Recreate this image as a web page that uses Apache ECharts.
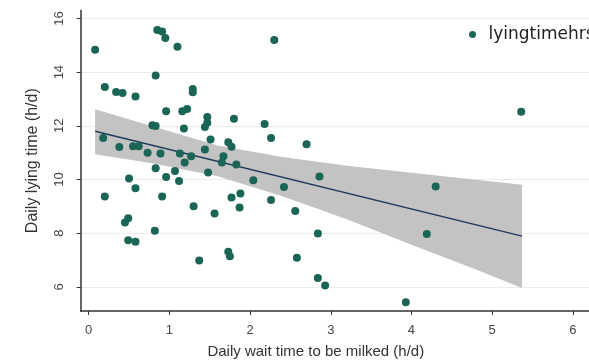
<!DOCTYPE html>
<html>
<head>
<meta charset="utf-8">
<script src="https://cdn.jsdelivr.net/npm/echarts@6/dist/echarts.min.js"></script>
<style>
html,body{margin:0;padding:0;background:#fff;}
#chart{width:589px;height:364px;}
</style>
</head>
<body>
<div id="chart"></div>
<script>
// Scatter data: wait time (h/d), lying time (h/d)
var waitTime = [0.08,0.85,0.91,0.95,1.10,0.83,0.20,0.34,0.42,0.58,1.29,1.29,0.96,1.16,1.22,0.79,0.83,1.18,1.47,1.47,1.44,1.51,0.18,0.38,0.55,0.62,0.73,0.89,1.13,1.27,1.44,0.83,1.07,1.19,1.48,0.50,0.96,1.12,0.58,0.20,0.91,1.30,1.56,0.49,0.45,0.82,0.49,0.58,1.37,2.30,1.80,2.18,2.26,2.70,1.73,1.77,1.67,1.65,1.83,2.04,2.42,2.86,1.77,1.88,1.87,2.26,2.56,2.84,1.73,1.75,2.58,2.84,2.93,5.36,4.30,4.19,3.93];
var lyingTime = [14.83,15.57,15.51,15.27,14.95,13.87,13.45,13.26,13.22,13.09,13.37,13.25,12.54,12.54,12.63,12.02,11.99,11.90,12.33,12.11,11.96,11.49,11.55,11.21,11.24,11.24,11.00,10.97,10.97,10.87,11.12,10.42,10.32,10.63,10.26,10.04,10.09,9.94,9.67,9.37,9.37,9.00,8.73,8.56,8.40,8.09,7.74,7.68,6.98,15.20,12.26,12.07,11.55,11.31,11.39,11.22,10.87,10.63,10.56,9.97,9.72,10.11,9.33,9.48,8.96,9.24,8.83,7.99,7.31,7.14,7.08,6.33,6.05,12.52,9.74,7.97,5.43];

// Fitted line endpoints
var fitX = [0.08, 5.37];
var fitY = [11.80, 7.89];

// Confidence band
var ciX = [0.08, 0.8, 1.6, 2.4, 3.2, 4.0, 4.8, 5.37];
var ciUpper = [12.62, 11.97, 11.27, 10.84, 10.51, 10.25, 9.99, 9.80];
var ciLower = [10.94, 10.60, 10.12, 9.38, 8.52, 7.57, 6.65, 5.96];

// Tick labels
var xTicks = [0, 1, 2, 3, 4, 5, 6];
var yTicks = [6, 8, 10, 12, 14, 16];

var seriesName = 'lyingtimehrs';
var xTitle = 'Daily wait time to be milked (h/d)';
var yTitle = 'Daily lying time (h/d)';

var scatterData = waitTime.map(function (x, i) { return [x, lyingTime[i]]; });
var fitData = fitX.map(function (x, i) { return [x, fitY[i]]; });
var ciData = ciX.map(function (x, i) { return [x, ciUpper[i], ciLower[i]]; });

var chart = echarts.init(document.getElementById('chart'), null, {renderer: 'canvas'});
var font = 'Liberation Sans, Arial, sans-serif';

chart.setOption({
  animation: false,
  backgroundColor: '#ffffff',
  textStyle: {fontFamily: font},
  grid: {left: 80.6, top: 10.4, width: 526.7, height: 301.9, containLabel: false},
  legend: {
    data: [seriesName],
    left: 464, top: 21,
    icon: 'circle', itemWidth: 22, itemHeight: 7, itemGap: 6,
    textStyle: {fontSize: 17, color: '#222', fontFamily: 'DejaVu Sans, sans-serif'}
  },
  xAxis: {
    type: 'value', min: -0.1, max: 6.2,
    name: xTitle, nameLocation: 'middle', nameGap: 33,
    nameTextStyle: {fontSize: 15, color: '#333', fontFamily: font, padding: [0, 38, 0, 0]},
    axisLine: {show: true, onZero: false, lineStyle: {color: '#333', width: 1.5}},
    axisTick: {show: true, customValues: xTicks, length: 4, lineStyle: {color: '#333'}},
    axisLabel: {customValues: xTicks, margin: 13, fontSize: 13, color: '#444', fontFamily: font},
    splitLine: {show: false}
  },
  yAxis: {
    type: 'value', min: 5.1, max: 16.3,
    name: yTitle, nameLocation: 'middle', nameGap: 40, nameRotate: 90,
    nameTextStyle: {fontSize: 16, color: '#333', fontFamily: font},
    axisLine: {show: true, onZero: false, lineStyle: {color: '#333', width: 1.5}},
    axisTick: {show: true, customValues: yTicks, length: 4, lineStyle: {color: '#333'}},
    axisLabel: {customValues: yTicks, rotate: 90, margin: 15, fontSize: 13, color: '#444', fontFamily: font},
    splitLine: {show: true, lineStyle: {color: '#ececec', width: 1}}
  },
  series: [
    {
      type: 'custom', name: 'ci', z: 1, silent: true,
      data: ciData,
      encode: {x: 0, y: [1, 2]},
      renderItem: function (params, api) {
        if (params.dataIndex !== 0) return null;
        var pts = [];
        for (var i = 0; i < ciX.length; i++) pts.push(api.coord([ciX[i], ciUpper[i]]));
        for (var j = ciX.length - 1; j >= 0; j--) pts.push(api.coord([ciX[j], ciLower[j]]));
        return {type: 'polygon', shape: {points: pts}, style: {fill: '#c3c3c3', stroke: null}};
      }
    },
    {
      type: 'line', name: 'fit', z: 2, data: fitData, symbol: 'none',
      lineStyle: {color: '#1e3a5c', width: 1.5}
    },
    {
      type: 'scatter', name: seriesName, z: 3, data: scatterData,
      symbol: 'circle', symbolSize: 8,
      itemStyle: {color: '#1a6555', opacity: 1}
    }
  ]
});
</script>
</body>
</html>
